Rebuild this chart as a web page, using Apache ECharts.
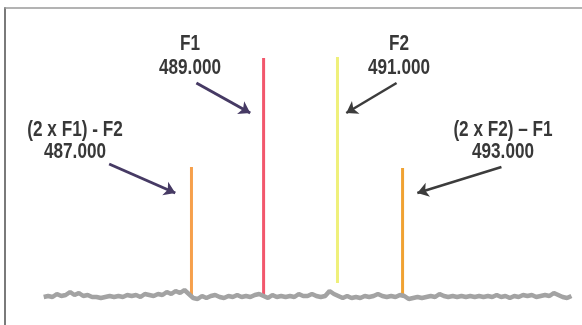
<!DOCTYPE html>
<html>
<head>
<meta charset="utf-8">
<script src="https://cdn.jsdelivr.net/npm/echarts@6/dist/echarts.min.js"></script>
<style>
  html, body { margin: 0; padding: 0; background: #fff; }
  #chart { width: 582px; height: 325px; }
</style>
</head>
<body>
<div id="chart"></div>
<script>
// noise floor trace, sampled every noiseStep MHz from noiseStart
var noiseStart = 482.8;
var noiseStep = 0.125;
var noiseLevel = [
  28, 29, 28, 31, 29, 30, 33, 30, 32, 29, 30, 28, 28, 27, 28, 29, 28, 29, 28, 30,
  29, 30, 28, 31, 30, 29, 31, 30, 33, 31, 34, 32, 35, 31, 27, 26, 29, 27, 29, 30,
  28, 27, 29, 28, 30, 28, 29, 28, 30, 31, 29, 27, 30, 28, 29, 28, 29, 28, 31, 29,
  29, 31, 29, 28, 29, 34, 31, 29, 27, 29, 27, 28, 27, 29, 28, 29, 31, 29, 28, 29,
  28, 30, 29, 26, 27, 28, 27, 28, 29, 28, 31, 29, 28, 29, 28, 29, 28, 29, 28, 29,
  28, 29, 28, 30, 28, 29, 27, 29, 28, 30, 29, 30, 28, 29, 30, 29, 32, 30, 28, 27,
  29
];

// carriers and intermodulation products
var spikeFreq = [487.0, 489.05, 491.15, 493.0];
var spikeTop = [158, 267, 268, 157];
var spikeBase = [28, 28, 42, 30];
var spikeColor = ['#f6a04c', '#f2576c', '#eff07a', '#f0a232'];
var spikeLabel = ['(2 x F1) - F2\n487.000', 'F1\n489.000', 'F2\n491.000', '(2 x F2) \u2013 F1\n493.000'];

var chart = echarts.init(document.getElementById('chart'));

var noiseData = noiseLevel.map(function (v, i) {
  return [noiseStart + i * noiseStep, v];
});

var series = spikeFreq.map(function (f, i) {
  return {
    type: 'line',
    data: [[f, spikeBase[i]], [f, spikeTop[i]]],
    symbol: 'none',
    lineStyle: { color: spikeColor[i], width: 3 },
    z: 2
  };
});

var arrowDark = '#3c3c3c';
var arrowPurple = '#463a64';

series.push({
  type: 'line',
  data: noiseData,
  symbol: 'none',
  lineStyle: { color: '#a3a3a3', width: 4.5 },
  z: 3,
  markLine: {
    silent: true,
    symbol: ['none', 'arrow'],
    symbolSize: 11,
    label: { show: false },
    data: [
      [{ coord: [487.14, 242], lineStyle: { color: arrowPurple, width: 3, type: 'solid' } }, { coord: [488.67, 212] }],
      [{ coord: [492.83, 242], lineStyle: { color: arrowDark, width: 2.5, type: 'solid' } }, { coord: [491.40, 212] }],
      [{ coord: [484.66, 161], lineStyle: { color: arrowPurple, width: 3, type: 'solid' } }, { coord: [486.54, 132] }],
      [{ coord: [495.81, 158], lineStyle: { color: arrowDark, width: 2.5, type: 'solid' } }, { coord: [493.42, 132] }]
    ]
  }
});

// labels: Liberation Sans squeezed horizontally to look like a condensed face
var labelPos = [[75, 141], [190, 56], [399, 56], [503, 141]];
var graphic = spikeLabel.map(function (t, i) {
  return {
    type: 'text',
    x: labelPos[i][0],
    y: labelPos[i][1],
    scaleX: 0.78,
    style: {
      text: t,
      font: 'bold 22px "Liberation Sans", Arial, sans-serif',
      fill: '#383838',
      textAlign: 'center',
      textVerticalAlign: 'middle',
      lineHeight: i === 0 || i === 3 ? 22 : 24
    }
  };
});

chart.setOption({
  animation: false,
  backgroundColor: '#ffffff',
  grid: { left: 5, right: 0, top: 8, bottom: 0 },
  xAxis: {
    type: 'value',
    position: 'top',
    min: 481.7,
    max: 498.1,
    axisLine: { show: true, onZero: false, lineStyle: { color: '#9a9a9a', width: 1.5 } },
    axisTick: { show: false },
    axisLabel: { show: false },
    splitLine: { show: false }
  },
  yAxis: {
    type: 'value',
    min: 0,
    max: 317,
    axisLine: { show: true, onZero: false, lineStyle: { color: '#7a7a7a', width: 2 } },
    axisTick: { show: false },
    axisLabel: { show: false },
    splitLine: { show: false }
  },
  series: series,
  graphic: graphic
});
</script>
</body>
</html>
